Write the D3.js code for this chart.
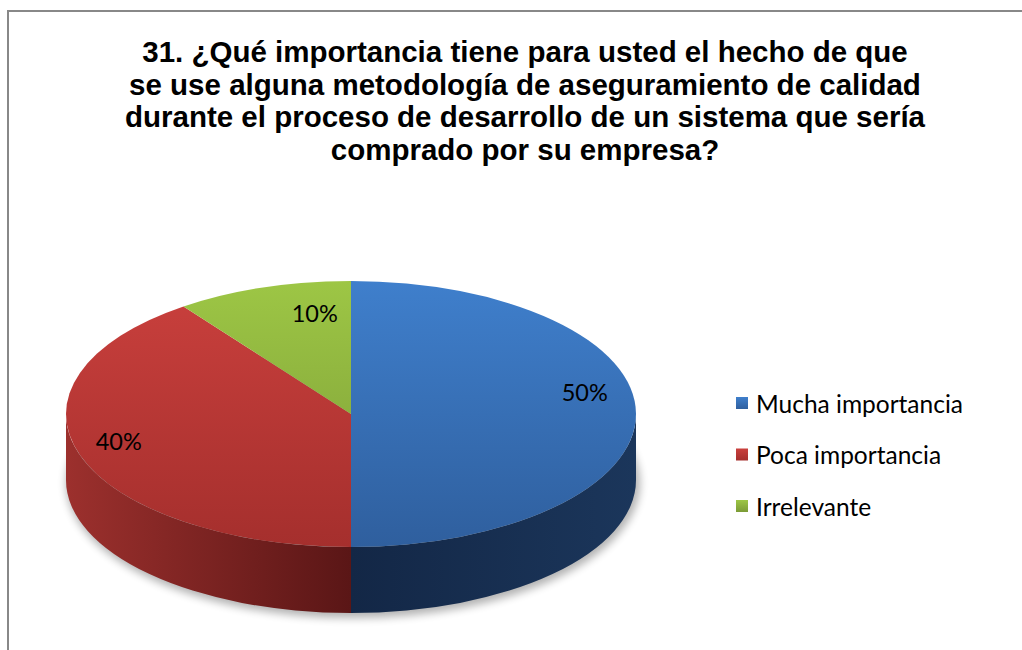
<!DOCTYPE html>
<html>
<head>
<meta charset="utf-8">
<script src="https://cdn.jsdelivr.net/npm/d3@7"></script>
<style>
  body { margin: 0; background: #fff; }
  svg { display: block; }
</style>
</head>
<body>
<svg id="chart" width="1022" height="650"></svg>
<script>
// Survey answers for question 31
const categories = ["Mucha importancia", "Poca importancia", "Irrelevante"];
const values = [50, 40, 10];
const titleLines = [
  "31. ¿Qué importancia tiene para usted el hecho de que",
  "se use alguna metodología de aseguramiento de calidad",
  "durante el proceso de desarrollo de un sistema que sería",
  "comprado por su empresa?"
];

// Slice palette: top face (light, dark) and side face (near, far)
const topColors  = [["#3f7fcc", "#2f5f9e"], ["#ca403d", "#a52f2d"], ["#9dc645", "#7b9b36"]];
const sideColors = [["#132746", "#1b365b"], ["#5a1616", "#9c302d"], ["#5f7a2a", "#7f9f39"]];

const svg = d3.select("#chart");
const defs = svg.append("defs");

// Chart frame
svg.append("rect")
  .attr("x", 8).attr("y", 11)
  .attr("width", 1040).attr("height", 700)
  .attr("fill", "#fff")
  .attr("stroke", "#888").attr("stroke-width", 2);

// Title
const title = svg.append("text")
  .attr("text-anchor", "middle")
  .attr("font-family", "'Liberation Sans', Arial, sans-serif")
  .attr("font-weight", "bold")
  .attr("font-size", 29.5)
  .attr("fill", "#000");
title.selectAll("tspan").data(titleLines).join("tspan")
  .attr("x", 525)
  .attr("y", (d, i) => 62 + i * 32.5)
  .text(d => d);

// Pie geometry (elliptical projection of a tilted disc)
const cx = 351, cy = 414, rx = 285, ry = 133, depth = 66;
const pie = d3.pie().sort(null).startAngle(0).endAngle(2 * Math.PI);
const arcs = pie(values);
const total = d3.sum(values);
const pct = d3.format(".0%");

const pt = (a, dy = 0) => [cx + rx * Math.sin(a), cy - ry * Math.cos(a) + dy];

function topPath(d) {
  const p0 = pt(d.startAngle), p1 = pt(d.endAngle);
  const large = d.endAngle - d.startAngle > Math.PI ? 1 : 0;
  return `M${cx},${cy}L${p0}A${rx},${ry} 0 ${large} 1 ${p1}Z`;
}

function sidePath(d) {
  const s = Math.max(d.startAngle, Math.PI / 2);
  const e = Math.min(d.endAngle, 3 * Math.PI / 2);
  if (e <= s) return null;
  const a = pt(s), b = pt(e), b2 = pt(e, depth), a2 = pt(s, depth);
  return `M${a}A${rx},${ry} 0 0 1 ${b}L${b2}A${rx},${ry} 0 0 0 ${a2}Z`;
}

// Gradients
arcs.forEach((d, i) => {
  const gt = defs.append("linearGradient")
    .attr("id", "top" + i).attr("gradientUnits", "userSpaceOnUse")
    .attr("x1", 0).attr("y1", cy - ry).attr("x2", 0).attr("y2", cy + ry);
  gt.append("stop").attr("offset", 0).attr("stop-color", topColors[i][0]);
  gt.append("stop").attr("offset", 1).attr("stop-color", topColors[i][1]);

  const gs = defs.append("linearGradient")
    .attr("id", "side" + i).attr("gradientUnits", "userSpaceOnUse")
    .attr("x1", cx).attr("y1", 0)
    .attr("x2", i === 0 ? cx + rx : cx - rx).attr("y2", 0);
  gs.append("stop").attr("offset", 0).attr("stop-color", sideColors[i][0]);
  gs.append("stop").attr("offset", 1).attr("stop-color", sideColors[i][1]);

  const gl = defs.append("linearGradient")
    .attr("id", "leg" + i).attr("x1", 0).attr("y1", 0).attr("x2", 0).attr("y2", 1);
  gl.append("stop").attr("offset", 0).attr("stop-color", topColors[i][0]);
  gl.append("stop").attr("offset", 1).attr("stop-color", topColors[i][1]);
});

// Soft drop shadow under the disc
const blur = defs.append("filter").attr("id", "soft")
  .attr("x", "-20%").attr("y", "-20%").attr("width", "140%").attr("height", "140%");
blur.append("feGaussianBlur").attr("stdDeviation", 4);

svg.append("ellipse")
  .attr("cx", cx + 2).attr("cy", cy + depth + 3)
  .attr("rx", rx + 2).attr("ry", ry + 2)
  .attr("fill", "#000").attr("opacity", 0.3)
  .attr("filter", "url(#soft)");

const g = svg.append("g");

g.selectAll("path.side").data(arcs.filter(d => sidePath(d))).join("path")
  .attr("class", "side")
  .attr("d", sidePath)
  .attr("fill", d => `url(#side${d.index})`);

g.selectAll("path.top").data(arcs).join("path")
  .attr("class", "top")
  .attr("d", topPath)
  .attr("fill", d => `url(#top${d.index})`);

// Data labels
const labelNudge = [[0, -22], [-10, -7], [36, 3]];
g.selectAll("text.lbl").data(arcs).join("text")
  .attr("class", "lbl")
  .attr("x", d => {
    const m = (d.startAngle + d.endAngle) / 2;
    return cx + rx * 0.82 * Math.sin(m) + labelNudge[d.index][0];
  })
  .attr("y", d => {
    const m = (d.startAngle + d.endAngle) / 2;
    return cy - ry * 0.82 * Math.cos(m) + labelNudge[d.index][1];
  })
  .attr("text-anchor", "middle")
  .attr("dominant-baseline", "central")
  .attr("font-family", "Lato, 'Open Sans', sans-serif")
  .attr("font-size", 23.5)
  .attr("fill", "#000")
  .text(d => pct(d.data / total));

// Legend
const legend = svg.append("g").attr("transform", "translate(736,403)");
const rows = legend.selectAll("g").data(categories).join("g")
  .attr("transform", (d, i) => `translate(0,${i * 51.5})`);
rows.append("rect")
  .attr("x", 0).attr("y", -6).attr("width", 12).attr("height", 12)
  .attr("fill", (d, i) => `url(#leg${i})`);
rows.append("text")
  .attr("x", 20).attr("y", 0)
  .attr("dominant-baseline", "central")
  .attr("font-family", "Lato, 'Open Sans', sans-serif")
  .attr("font-size", 24.5)
  .attr("fill", "#000")
  .text(d => d);
</script>
</body>
</html>
